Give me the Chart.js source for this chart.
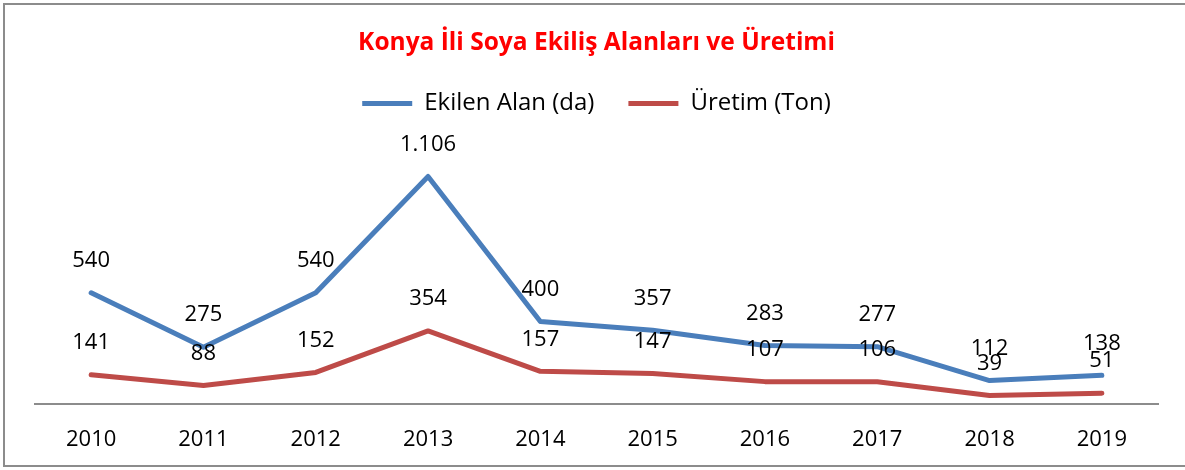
<!DOCTYPE html>
<html>
<head>
<meta charset="utf-8">
<script src="https://cdn.jsdelivr.net/npm/chart.js@4/dist/chart.umd.min.js"></script>
<style>
  html, body { margin: 0; padding: 0; background: #fff; }
  #wrap { position: relative; width: 1185px; height: 470px; }
  #frame { position: absolute; left: 3px; top: 3px; width: 1190px; height: 464px;
           border: 2px solid #8c8c8c; box-sizing: border-box; pointer-events: none; }
  canvas { position: absolute; left: 0; top: 0; }
</style>
</head>
<body>
<div id="wrap">
  <canvas id="c" width="1185" height="470"></canvas>
  <div id="frame"></div>
</div>
<script>
// ── Konya soya: ekilen alan & üretim ─────────────────────────────────────────
const years   = ['2010','2011','2012','2013','2014','2015','2016','2017','2018','2019'];
const alanDa  = [540, 275, 540, 1106, 400, 357, 283, 277, 112, 138];
const uretim  = [141, 88, 152, 354, 157, 147, 107, 106, 39, 51];

const FONT = "'Open Sans', 'Noto Sans', sans-serif";

// Turkish thousands separator: 1106 -> 1.106
const _fmtTr = v => String(v).replace(/\B(?=(\d{3})+(?!\d))/g, '.');

// value labels above each point
const pointLabels = {
  id: 'pointLabels',
  afterDatasetsDraw(chart) {
    const ctx = chart.ctx;
    ctx.save();
    ctx.font = `22px ${FONT}`;
    ctx.fillStyle = '#000';
    ctx.textAlign = 'center';
    ctx.textBaseline = 'middle';
    chart.data.datasets.forEach((ds, i) => {
      chart.getDatasetMeta(i).data.forEach((pt, j) => {
        ctx.fillText(_fmtTr(ds.data[j]), pt.x, pt.y - 32);
      });
    });
    ctx.restore();
  }
};

new Chart(document.getElementById('c'), {
  type: 'line',
  data: {
    labels: years,
    datasets: [
      { label: 'Ekilen Alan (da)', data: alanDa, borderColor: '#4a7ebb', backgroundColor: '#4a7ebb',
        borderWidth: 5, pointRadius: 0, tension: 0, borderCapStyle: 'round', borderJoinStyle: 'round' },
      { label: 'Üretim (Ton)', data: uretim, borderColor: '#be4b48', backgroundColor: '#be4b48',
        borderWidth: 5, pointRadius: 0, tension: 0, borderCapStyle: 'round', borderJoinStyle: 'round' },
    ],
  },
  options: {
    responsive: false, animation: false,
    layout: { padding: { left: 35, right: 27, top: 0, bottom: -6 } },
    plugins: {
      title: { display: true, text: 'Konya İli Soya Ekiliş Alanları ve Üretimi', color: '#ff0000',
               font: { family: FONT, size: 24.5, weight: 'bold' }, padding: { top: 28, bottom: 0 } },
      legend: { position: 'top',
                labels: { usePointStyle: true, pointStyle: 'line', pointStyleWidth: 50, color: '#000',
                          font: { family: FONT, size: 24 }, padding: 34 } },
      tooltip: { enabled: false },
    },
    scales: {
      x: { offset: true,
           grid: { display: false, drawTicks: false },
           border: { display: true, color: '#8c8c8c', width: 2 },
           ticks: { color: '#000', padding: 23, font: { family: FONT, size: 22 } } },
      y: { display: false, min: 0, max: 1355 },
    },
  },
  plugins: [pointLabels],
});
</script>
</body>
</html>
